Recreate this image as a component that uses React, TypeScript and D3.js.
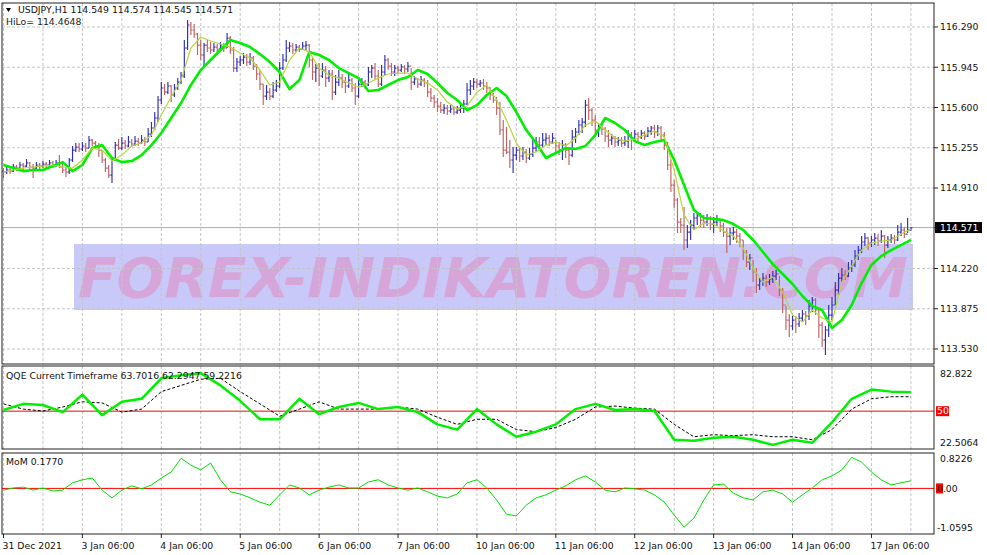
import React from "react";
import * as d3 from "d3";

// ---- OHLC (H1 bars, open = previous close) ----
const firstOpen = 115.055;
const closes = [
115.047,115.064,115.055,115.090,115.081,115.107,115.098,115.124,115.090,115.081,
115.107,115.098,115.115,115.107,115.124,115.107,115.124,115.090,115.064,115.047,
115.150,115.235,115.261,115.244,115.270,115.252,115.321,115.295,115.270,115.235,
115.150,115.081,115.021,115.150,115.278,115.252,115.295,115.270,115.304,115.287,
115.312,115.295,115.321,115.304,115.372,115.424,115.510,115.664,115.767,115.732,
115.784,115.707,115.767,115.818,115.870,116.110,116.307,116.264,116.230,116.135,
116.050,116.135,116.110,116.093,116.118,116.101,116.127,116.110,116.195,116.093,
115.938,115.990,116.007,116.032,115.990,116.024,115.955,115.887,115.801,115.698,
115.732,115.698,115.750,115.784,115.938,116.007,116.110,116.127,116.093,116.118,
116.101,116.127,116.135,116.007,115.904,115.938,115.870,115.921,115.852,115.887,
115.732,115.818,115.852,115.818,115.784,115.835,115.767,115.698,115.801,115.818,
115.793,115.904,115.938,115.870,115.801,115.904,116.007,115.955,115.904,115.938,
115.921,115.947,115.930,115.955,115.818,115.844,115.801,115.835,115.810,115.732,
115.681,115.647,115.612,115.578,115.595,115.570,115.587,115.561,115.578,115.595,
115.630,115.750,115.784,115.818,115.801,115.810,115.784,115.767,115.707,115.664,
115.595,115.407,115.235,115.218,115.150,115.192,115.235,115.184,115.218,115.167,
115.201,115.252,115.304,115.278,115.321,115.338,115.304,115.338,115.270,115.235,
115.278,115.235,115.192,115.347,115.390,115.450,115.475,115.621,115.578,115.492,
115.407,115.441,115.415,115.355,115.321,115.338,115.304,115.321,115.295,115.312,
115.364,115.338,115.372,115.347,115.381,115.355,115.398,115.424,115.390,115.424,
115.364,115.278,115.107,114.935,114.807,114.618,114.592,114.464,114.532,114.592,
114.653,114.670,114.635,114.618,114.653,114.601,114.618,114.644,114.584,114.532,
114.498,114.524,114.532,114.498,114.464,114.361,114.275,114.310,114.190,114.078,
114.113,114.138,114.104,114.130,114.155,114.173,114.035,113.907,113.778,113.727,
113.778,113.744,113.795,113.830,113.813,113.898,113.950,113.864,113.735,113.607,
113.693,113.821,113.907,114.035,114.138,114.164,114.155,114.224,114.250,114.327,
114.378,114.447,114.481,114.438,114.464,114.481,114.455,114.498,114.421,114.464,
114.481,114.464,114.532,114.550,114.515,114.549,114.571];
const highs = [
115.081,115.098,115.090,115.115,115.107,115.132,115.124,115.158,115.132,115.115,
115.132,115.124,115.141,115.132,115.150,115.141,115.150,115.192,115.124,115.090,
115.167,115.270,115.295,115.295,115.304,115.295,115.355,115.330,115.312,115.295,
115.235,115.167,115.107,115.175,115.304,115.330,115.347,115.321,115.355,115.330,
115.355,115.338,115.364,115.347,115.424,115.475,115.561,115.698,115.818,115.801,
115.818,115.793,115.801,115.852,115.904,116.178,116.350,116.332,116.315,116.238,
116.178,116.153,116.178,116.161,116.153,116.144,116.161,116.153,116.238,116.212,
116.118,116.024,116.041,116.067,116.058,116.067,116.041,115.972,115.921,115.801,
115.793,115.767,115.818,115.835,115.990,116.058,116.178,116.161,116.153,116.144,
116.135,116.161,116.170,116.144,116.024,115.972,115.981,115.981,115.955,115.921,
115.921,115.878,115.921,115.887,115.861,115.887,115.852,115.810,115.835,115.852,
115.835,115.947,115.964,115.981,115.921,115.964,116.050,116.024,115.981,115.964,
115.955,115.972,115.964,115.990,115.938,115.870,115.852,115.870,115.852,115.835,
115.767,115.707,115.681,115.647,115.630,115.621,115.621,115.612,115.612,115.638,
115.664,115.810,115.835,115.852,115.844,115.835,115.844,115.818,115.775,115.724,
115.690,115.647,115.492,115.432,115.321,115.261,115.261,115.252,115.261,115.244,
115.252,115.321,115.347,115.347,115.381,115.381,115.364,115.381,115.321,115.304,
115.321,115.295,115.261,115.407,115.424,115.492,115.510,115.664,115.681,115.595,
115.535,115.467,115.467,115.432,115.407,115.372,115.355,115.347,115.347,115.355,
115.407,115.390,115.407,115.390,115.407,115.398,115.432,115.441,115.450,115.450,
115.441,115.390,115.304,115.150,114.978,114.824,114.653,114.747,114.592,114.635,
114.695,114.704,114.695,114.678,114.687,114.670,114.661,114.678,114.644,114.610,
114.567,114.567,114.575,114.558,114.524,114.464,114.378,114.344,114.293,114.224,
114.138,114.181,114.164,114.173,114.198,114.207,114.155,114.053,113.898,113.830,
113.813,113.813,113.838,113.864,113.855,113.950,113.975,113.967,113.864,113.761,
113.727,113.907,113.975,114.104,114.181,114.224,114.207,114.275,114.293,114.378,
114.413,114.498,114.524,114.490,114.498,114.524,114.515,114.550,114.507,114.498,
114.515,114.507,114.592,114.610,114.575,114.653,114.574];
const lows = [
114.995,115.030,115.030,115.047,115.055,115.072,115.064,115.090,115.064,114.995,
115.072,115.064,115.081,115.072,115.090,115.081,115.090,115.081,115.038,115.004,
115.030,115.132,115.218,115.218,115.227,115.218,115.252,115.270,115.244,115.175,
115.124,115.047,114.995,114.952,115.150,115.235,115.235,115.244,115.261,115.261,
115.270,115.270,115.287,115.270,115.304,115.347,115.407,115.475,115.630,115.707,
115.715,115.647,115.690,115.750,115.801,115.852,116.093,116.221,116.195,116.050,
116.007,115.947,116.075,116.058,116.075,116.075,116.084,116.075,116.110,116.058,
115.904,115.904,115.955,115.972,115.955,115.964,115.921,115.835,115.750,115.621,
115.664,115.664,115.681,115.732,115.767,115.921,115.990,116.075,116.058,116.075,
116.075,116.093,116.093,115.947,115.835,115.818,115.784,115.852,115.775,115.818,
115.664,115.707,115.784,115.767,115.724,115.767,115.732,115.621,115.681,115.775,
115.758,115.784,115.852,115.835,115.775,115.784,115.878,115.921,115.870,115.870,
115.887,115.904,115.887,115.904,115.750,115.793,115.767,115.784,115.775,115.690,
115.647,115.595,115.561,115.552,115.544,115.535,115.552,115.535,115.544,115.552,
115.552,115.621,115.707,115.750,115.767,115.775,115.750,115.724,115.664,115.638,
115.535,115.364,115.175,115.201,115.081,115.038,115.150,115.132,115.150,115.124,
115.150,115.175,115.218,115.235,115.252,115.278,115.270,115.287,115.210,115.192,
115.150,115.167,115.107,115.175,115.295,115.364,115.381,115.432,115.492,115.441,
115.347,115.347,115.364,115.304,115.261,115.278,115.261,115.270,115.261,115.270,
115.252,115.235,115.321,115.304,115.330,115.321,115.347,115.364,115.338,115.355,
115.321,115.235,115.064,114.875,114.738,114.524,114.524,114.378,114.395,114.464,
114.550,114.592,114.575,114.567,114.584,114.550,114.524,114.584,114.532,114.490,
114.353,114.421,114.464,114.438,114.404,114.293,114.233,114.207,114.104,114.010,
114.035,114.070,114.061,114.078,114.095,114.121,113.984,113.838,113.693,113.633,
113.693,113.667,113.718,113.761,113.735,113.778,113.847,113.821,113.624,113.547,
113.478,113.633,113.778,113.907,113.993,114.104,114.121,114.147,114.190,114.233,
114.293,114.353,114.413,114.378,114.404,114.421,114.413,114.438,114.310,114.395,
114.438,114.430,114.455,114.498,114.481,114.524,114.545];

// ---- overlay lines on the price panel (one value every 3 bars) ----
const lineStep = 3;
const fastLine = [
115.047,115.064,115.081,115.090,115.098,115.107,115.090,115.081,115.150,115.252,
115.235,115.141,115.192,115.270,115.295,115.364,115.535,115.690,115.835,116.110,
116.204,116.170,116.144,116.118,116.067,116.024,115.921,115.793,115.818,116.007,
116.110,116.075,115.938,115.878,115.852,115.810,115.775,115.810,115.852,115.887,
115.895,115.895,115.844,115.810,115.750,115.647,115.587,115.612,115.732,115.793,
115.664,115.492,115.295,115.192,115.218,115.278,115.304,115.270,115.338,115.450,
115.484,115.407,115.338,115.312,115.330,115.364,115.398,115.347,115.064,114.678,
114.550,114.610,114.601,114.541,114.498,114.395,114.224,114.104,114.147,114.018,
113.821,113.761,113.864,113.795,113.761,114.104,114.241,114.378,114.438,114.455,
114.464,114.515,114.558];
const hiLoLine = [
115.107,115.081,115.055,115.064,115.064,115.098,115.132,115.055,115.107,115.252,
115.278,115.167,115.132,115.141,115.192,115.278,115.381,115.510,115.638,115.793,
115.921,116.007,116.093,116.178,116.153,116.118,116.058,115.990,115.904,115.758,
115.835,116.075,116.050,116.007,115.938,115.895,115.852,115.741,115.750,115.793,
115.835,115.861,115.921,115.887,115.810,115.724,115.664,115.578,115.621,115.707,
115.767,115.698,115.561,115.407,115.295,115.167,115.210,115.252,115.244,115.270,
115.364,115.510,115.467,115.407,115.312,115.278,115.304,115.321,115.150,114.935,
114.721,114.653,114.644,114.635,114.601,114.550,114.464,114.361,114.258,114.173,
114.087,113.984,113.898,113.864,113.710,113.778,113.907,114.095,114.250,114.327,
114.378,114.421,114.465];

// ---- indicator panels ----
const qqeStep = 6;
const qqeMain = [
50.8,55.3,54.5,49.3,62.0,47.1,56.8,59.0,73.9,76.1,77.6,68.7,57.5,44.1,44.1,59.0,
47.8,53.0,56.0,51.5,53.0,49.3,40.4,36.6,51.5,40.4,31.4,35.1,40.4,51.5,55.3,50.8,
51.5,50.1,29.2,28.5,30.7,31.4,29.2,25.5,29.2,27.0,41.9,59.0,65.7,64.2,63.7];
const qqeSignal = [
55.3,51.5,50.1,53.0,56.8,56.0,49.3,51.5,64.2,68.7,73.2,73.9,64.2,55.3,46.3,51.5,
56.8,51.5,51.5,51.5,53.0,51.5,45.6,40.4,44.1,44.1,36.6,35.1,38.1,44.1,53.0,53.7,
52.2,51.5,40.4,31.4,32.9,32.2,32.9,31.4,31.4,29.2,36.6,51.5,59.0,60.5,60.5];
const momStep = 3;
const momValues = [
-0.04,0.01,0.03,-0.04,0.01,-0.06,-0.04,0.13,0.20,0.24,-0.04,-0.22,-0.04,0.06,-0.01,0.08,
0.24,0.38,0.70,0.54,0.43,0.59,0.20,-0.08,-0.13,-0.22,-0.32,-0.39,-0.15,0.08,0.01,-0.15,
-0.04,0.03,0.08,0.01,0.01,0.15,0.20,0.08,0.01,-0.04,0.01,-0.08,-0.18,-0.22,-0.13,0.13,
0.20,0.01,-0.27,-0.60,-0.64,-0.39,-0.22,-0.15,-0.04,0.06,0.20,0.29,0.15,-0.04,-0.08,0.01,
-0.01,-0.04,-0.15,-0.32,-0.62,-0.90,-0.69,-0.27,0.08,0.10,-0.11,-0.22,-0.27,-0.08,-0.04,-0.13,
-0.32,-0.15,0.01,0.20,0.29,0.43,0.72,0.61,0.38,0.20,0.08,0.13,0.177];

// ---- axes ----
const priceTicks = [116.29, 115.945, 115.6, 115.255, 114.91, 114.571, 114.22, 113.875, 113.53];
const dateLabels = ["31 Dec 2021", "3 Jan 06:00", "4 Jan 06:00", "5 Jan 06:00", "6 Jan 06:00",
  "7 Jan 06:00", "10 Jan 06:00", "11 Jan 06:00", "12 Jan 06:00", "13 Jan 06:00", "14 Jan 06:00", "17 Jan 06:00"];
const dateLabelStep = 24;
const gridStep = 12;

const FONT = "DejaVu Sans, sans-serif";
const FS = 9.3;
const BULL = "#2f2fb8";
const BEAR = "#c06262";
const GRID = "#c4c4c4";

export default function App() {
  const n = closes.length;
  const L = 2, R = 934;
  const main = { top: 3, bottom: 364 };
  const qp = { top: 366, bottom: 449 };
  const mp = { top: 453, bottom: 534 };

  const x = d3.scaleLinear().domain([0, 276]).range([3.5, 910.9]);
  const y = d3.scaleLinear().domain([113.53, 116.29]).range([349, 27]);
  const yQ = d3.scaleLinear().domain([22.5064, 82.822]).range([qp.bottom, qp.top]);
  const yM = d3.scaleLinear().domain([-1.0595, 0.8226]).range([mp.bottom, mp.top]);

  const bars = closes.map((c, i) => {
    const o = i === 0 ? firstOpen : closes[i - 1];
    const xi = x(i);
    const d = `M${xi},${y(highs[i])}V${y(lows[i])}M${xi - 1.5},${y(o)}H${xi}M${xi},${y(c)}H${xi + 1.5}`;
    return { d, color: c >= o ? BULL : BEAR };
  });

  const lineGen = (step: number, ys: (v: number) => number) =>
    d3.line<number>().x((_, i) => x(Math.min(i * step, 276))).y((v) => ys(v)).curve(d3.curveLinear);

  const gridXs: number[] = [];
  for (let i = 0; i < n; i += gridStep) gridXs.push(x(i));

  const vGrid = (top: number, bottom: number, key: string) =>
    gridXs.map((gx, i) => (
      <line key={key + i} x1={gx} x2={gx} y1={top} y2={bottom} stroke={GRID} strokeDasharray="3,2" />
    ));

  const lastPrice = closes[n - 1];

  return (
    <svg width={987} height={555} style={{ position: "fixed", left: 0, top: 0, background: "#fff" }}
      fontFamily={FONT}>
      <defs>
        <clipPath id="cm"><rect x={L} y={main.top} width={R - L} height={main.bottom - main.top} /></clipPath>
        <clipPath id="cq"><rect x={L} y={qp.top} width={R - L} height={qp.bottom - qp.top} /></clipPath>
        <clipPath id="cmo"><rect x={L} y={mp.top} width={R - L} height={mp.bottom - mp.top} /></clipPath>
      </defs>
      <rect x={0} y={0} width={987} height={555} fill="#fff" />

      {/* watermark */}
      <rect x={74} y={244} width={839} height={66} fill="#c9c9f9" />
      <text x={78} y={297} fontSize={55} fontWeight="bold" fontStyle="italic" fill="#d6a6da"
        textLength={830} lengthAdjust="spacingAndGlyphs" fontFamily="DejaVu Sans, sans-serif">
        FOREX-INDIKATOREN.COM
      </text>

      {/* grids */}
      {priceTicks.map((p, i) => (
        <line key={"hg" + i} x1={L} x2={R} y1={y(p)} y2={y(p)} stroke={GRID} strokeDasharray="3,2" />
      ))}
      {vGrid(main.top, main.bottom, "vm")}
      {vGrid(qp.top, qp.bottom, "vq")}
      {vGrid(mp.top, mp.bottom, "vmo")}

      {/* bid line */}
      <line x1={L} x2={R} y1={y(lastPrice)} y2={y(lastPrice)} stroke="#b0b0b0" />

      {/* price panel */}
      <g clipPath="url(#cm)">
        {bars.map((b, i) => (
          <path key={"b" + i} d={b.d} stroke={b.color} strokeWidth={1.15} fill="none" />
        ))}
        <path d={lineGen(lineStep, y)(hiLoLine) || ""} stroke="#00f000" strokeWidth={2.6} fill="none"
          strokeLinejoin="round" />
        <path d={lineGen(lineStep, y)(fastLine) || ""} stroke="#b4d83a" strokeWidth={1.2} fill="none" />
      </g>

      {/* QQE panel */}
      <g clipPath="url(#cq)">
        <line x1={L} x2={R} y1={yQ(50)} y2={yQ(50)} stroke="#ff0000" strokeWidth={1} />
        <path d={lineGen(qqeStep, yQ)(qqeSignal) || ""} stroke="#000" strokeWidth={1} strokeDasharray="3,2" fill="none" />
        <path d={lineGen(qqeStep, yQ)(qqeMain) || ""} stroke="#00f000" strokeWidth={2.5} fill="none" strokeLinejoin="round" />
      </g>

      {/* MoM panel */}
      <g clipPath="url(#cmo)">
        <line x1={L} x2={R} y1={yM(0)} y2={yM(0)} stroke="#ff0000" strokeWidth={1} />
        <path d={lineGen(momStep, yM)(momValues) || ""} stroke="#00e000" strokeWidth={1} fill="none" />
      </g>

      {/* frames */}
      {[main, qp, mp].map((p, i) => (
        <rect key={"f" + i} x={L} y={p.top} width={R - L} height={p.bottom - p.top} fill="none" stroke="#222" strokeWidth={1} />
      ))}

      {/* price axis */}
      {priceTicks.map((p, i) => (
        <g key={"pt" + i}>
          <line x1={R} x2={R + 4} y1={y(p)} y2={y(p)} stroke="#222" />
          <text x={940} y={y(p)} dy="0.35em" fontSize={FS} fill="#111">{p.toFixed(3)}</text>
        </g>
      ))}
      <rect x={935} y={y(lastPrice) - 5.5} width={47} height={11} fill="#000" />
      <text x={940} y={y(lastPrice)} dy="0.35em" fontSize={FS} fill="#fff">{lastPrice.toFixed(3)}</text>

      {/* QQE axis */}
      <text x={940} y={374} dy="0.35em" fontSize={FS} fill="#111">82.822</text>
      <text x={940} y={443} dy="0.35em" fontSize={FS} fill="#111">22.5064</text>
      <rect x={936} y={yQ(50) - 5} width={13} height={10} fill="#ff0000" />
      <text x={937} y={yQ(50)} dy="0.35em" fontSize={FS} fill="#fff">50</text>

      {/* MoM axis */}
      <text x={940} y={459} dy="0.35em" fontSize={FS} fill="#111">0.8226</text>
      <text x={937} y={528} dy="0.35em" fontSize={FS} fill="#111">-1.0595</text>
      <rect x={936} y={yM(0) - 5} width={7} height={10} fill="#ff0000" />
      <text x={937} y={yM(0)} dy="0.35em" fontSize={FS} fill="#111">0.00</text>

      {/* time axis */}
      {dateLabels.map((lab, k) => {
        const xi = x(k * dateLabelStep);
        return (
          <g key={"dl" + k}>
            <line x1={xi} x2={xi} y1={mp.bottom} y2={mp.bottom + 4} stroke="#222" />
            <text x={xi - 1} y={549} fontSize={FS} fill="#111">{lab}</text>
          </g>
        );
      })}

      {/* titles */}
      <path d="M6,8 L11,8 L8.5,12 Z" fill="#000" />
      <text x={18} y={13} fontSize={FS} fill="#111">USDJPY,H1  114.549 114.574 114.545 114.571</text>
      <text x={6} y={25} fontSize={FS} fill="#222">HiLo= 114.4648</text>
      <text x={6} y={379} fontSize={FS} fill="#111">QQE Current Timeframe 63.7016 62.2947 59.2216</text>
      <text x={6} y={465} fontSize={FS} fill="#111">MoM  0.1770</text>
    </svg>
  );
}
